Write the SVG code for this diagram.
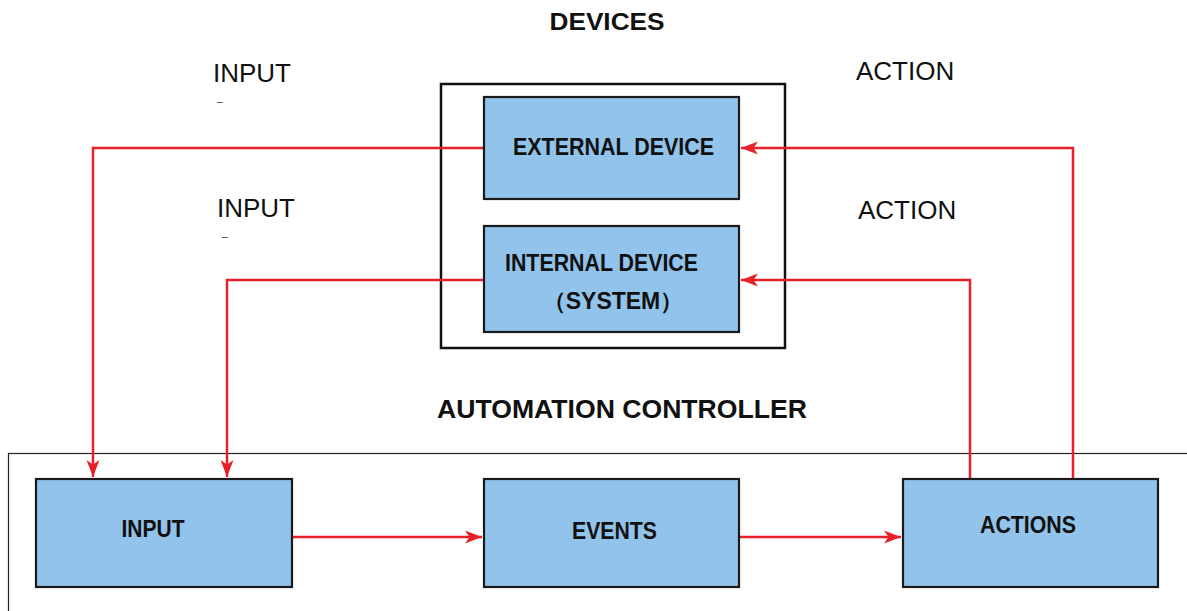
<svg xmlns="http://www.w3.org/2000/svg" width="1187" height="611" viewBox="0 0 1187 611">
<style>
.node{fill:#92c3ea;stroke:#1a1a1a;stroke-width:2.2}
.frame{fill:none;stroke:#111;stroke-width:2.5}
.ctl{fill:none;stroke:#222;stroke-width:1.2}
.lbl{font-family:"Liberation Sans",Arial,sans-serif;font-weight:bold;fill:#111}
.plain{font-family:"Liberation Sans",Arial,sans-serif;fill:#111;font-size:26px}
.dash{font-family:"Liberation Sans",Arial,sans-serif;fill:#222;font-size:10px}
.con{fill:none;stroke:#e8202a;stroke-width:2.5}
</style>
<defs>
<marker id="ah" markerUnits="userSpaceOnUse" markerWidth="20" markerHeight="16" viewBox="-18 -8 20 16" refX="0" refY="0" orient="auto">
<path d="M0,0 L-17,-6.5 L-12.5,0 L-17,6.5 Z" fill="#e8202a"/>
</marker>
</defs>
<g id="titles">
<text class="lbl" x="607" y="30" font-size="24" text-anchor="middle" textLength="115" lengthAdjust="spacingAndGlyphs">DEVICES</text>
<text class="lbl" x="622" y="418" font-size="25" text-anchor="middle" textLength="370" lengthAdjust="spacingAndGlyphs">AUTOMATION CONTROLLER</text>
</g>
<g id="labels">
<text class="plain" x="213" y="82">INPUT</text>
<text class="dash" x="217" y="101">_</text>
<text class="plain" x="217" y="217">INPUT</text>
<text class="dash" x="222" y="236">_</text>
<text class="plain" x="856" y="80">ACTION</text>
<text class="plain" x="858" y="219">ACTION</text>
</g>
<g id="devices-frame">
<rect class="frame" x="441" y="84" width="344" height="264"/>
</g>
<g id="controller-frame">
<rect class="ctl" x="8.5" y="453.5" width="1250" height="300"/>
</g>
<g id="connectors">
<path class="con" d="M484,148 H93 V477" marker-end="url(#ah)"/>
<path class="con" d="M484,280 H227 V477" marker-end="url(#ah)"/>
<path class="con" d="M1073,479 V148 H741" marker-end="url(#ah)"/>
<path class="con" d="M970,479 V280 H741" marker-end="url(#ah)"/>
<path class="con" d="M292,537 H482" marker-end="url(#ah)"/>
<path class="con" d="M739,537 H901" marker-end="url(#ah)"/>
</g>
<g id="external-device">
<rect class="node" x="484" y="97" width="255" height="102"/>
<text class="lbl" x="613.5" y="155" font-size="23" text-anchor="middle" textLength="201" lengthAdjust="spacingAndGlyphs">EXTERNAL DEVICE</text>
</g>
<g id="internal-device">
<rect class="node" x="484" y="226" width="255" height="106"/>
<text class="lbl" x="601.5" y="271" font-size="23" text-anchor="middle" textLength="193" lengthAdjust="spacingAndGlyphs">INTERNAL DEVICE</text>
<text class="lbl" x="613" y="309" font-size="23" text-anchor="middle" font-family="'Liberation Sans','Noto Sans CJK SC',sans-serif">（SYSTEM）</text>
</g>
<g id="input">
<rect class="node" x="36" y="479" width="256" height="108"/>
<text class="lbl" x="153" y="537" font-size="23" text-anchor="middle" textLength="63" lengthAdjust="spacingAndGlyphs">INPUT</text>
</g>
<g id="events">
<rect class="node" x="484" y="479" width="255" height="108"/>
<text class="lbl" x="614.5" y="539" font-size="23" text-anchor="middle" textLength="85" lengthAdjust="spacingAndGlyphs">EVENTS</text>
</g>
<g id="actions">
<rect class="node" x="903" y="479" width="255" height="108"/>
<text class="lbl" x="1028" y="533" font-size="23" text-anchor="middle" textLength="96" lengthAdjust="spacingAndGlyphs">ACTIONS</text>
</g>
</svg>
